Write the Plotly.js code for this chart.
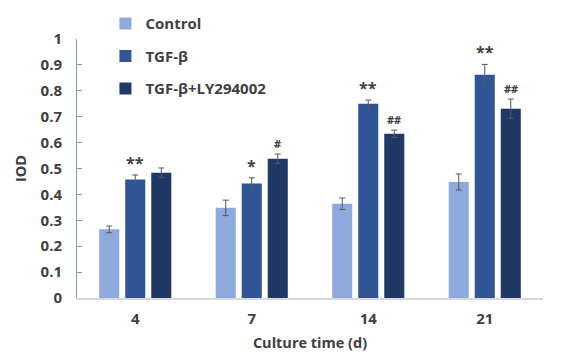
<!DOCTYPE html>
<html>
<head>
<meta charset="utf-8">
<script src="https://cdn.plot.ly/plotly-3.0.1.min.js"></script>
<style>html,body{margin:0;padding:0;background:#fff;}#chart{width:567px;height:354px;}</style>
</head>
<body>
<div id="chart"></div>
<script>
const categories = ['4', '7', '14', '21'];
const seriesNames = ['Control', 'TGF-β', 'TGF-β+LY294002'];
const controlVals = [0.265, 0.348, 0.364, 0.448];
const controlErr = [0.013, 0.030, 0.022, 0.031];
const tgfVals = [0.458, 0.442, 0.750, 0.862];
const tgfErr = [0.017, 0.022, 0.014, 0.040];
const lyVals = [0.484, 0.538, 0.634, 0.731];
const lyErr = [0.018, 0.018, 0.014, 0.037];
const tgfSig = ['**', '*', '**', '**'];
const lySig = ['', '#', '##', '##'];
const yTicks = [0, 0.1, 0.2, 0.3, 0.4, 0.5, 0.6, 0.7, 0.8, 0.9, 1];

const colors = ['#8EA9DB', '#2F5597', '#203864'];
const textColor = '#404040';
const fontFam = '"Open Sans", "Noto Sans", sans-serif';

const vals = [controlVals, tgfVals, lyVals];
const errs = [controlErr, tgfErr, lyErr];

const traces = vals.map((v, i) => ({
  type: 'bar',
  name: seriesNames[i],
  x: categories,
  y: v,
  marker: {color: colors[i], line: {width: 0}},
  error_y: {type: 'data', array: errs[i], visible: true, color: '#595959', thickness: 1, width: 3},
  legendgroup: 'g' + i
}));

const slot = 26; // px offset between bars in a group
const annotations = [];
categories.forEach((c, j) => {
  if (tgfSig[j]) annotations.push({
    x: j, xref: 'x', y: tgfVals[j] + tgfErr[j], yref: 'y', yanchor: 'bottom',
    xshift: 0, yshift: -1, text: tgfSig[j], showarrow: false,
    font: {family: fontFam, size: 16, color: textColor, weight: 'bold'}
  });
  if (lySig[j]) annotations.push({
    x: j, xref: 'x', y: lyVals[j] + lyErr[j], yref: 'y', yanchor: 'bottom',
    xshift: slot, yshift: 1, text: lySig[j], showarrow: false,
    font: {family: fontFam, size: 11, color: textColor}
  });
});

const layout = {
  width: 567, height: 354,
  margin: {l: 77, r: 24, t: 39, b: 56, autoexpand: false},
  paper_bgcolor: '#fff', plot_bgcolor: '#fff',
  barmode: 'group', bargap: 0.33, bargroupgap: 0.23,
  font: {family: fontFam, color: textColor, size: 15, weight: 'bold'},
  xaxis: {
    type: 'category', range: [-0.5, 3.5], autorange: false,
    showline: true, linecolor: '#d9d9d9', linewidth: 1.5,
    ticks: '', showgrid: false, zeroline: false, ticklabelstandoff: 6,
    tickfont: {family: fontFam, size: 15, color: textColor, weight: 'bold'},
    title: {text: 'Culture time (d)', font: {family: fontFam, size: 14.5, color: textColor, weight: 'bold'}, standoff: 11}
  },
  yaxis: {
    range: [0, 1], autorange: false, tickvals: yTicks, ticktext: yTicks.map(String),
    showline: true, linecolor: '#7FA3A8', linewidth: 1,
    ticks: 'inside', ticklen: 5, tickcolor: '#7FA3A8', ticklabelstandoff: 11,
    showgrid: false, zeroline: false,
    tickfont: {family: fontFam, size: 15, color: textColor, weight: 'bold'},
    title: {text: 'IOD', font: {family: fontFam, size: 14.5, color: textColor, weight: 'bold'}, standoff: 10}
  },
  showlegend: true,
  legend: {
    x: 0.061, y: 1.123, xanchor: 'left', yanchor: 'top',
    bgcolor: 'rgba(0,0,0,0)', itemwidth: 30, tracegroupgap: 10,
    font: {family: fontFam, size: 15, color: textColor, weight: 'bold'}
  },
  annotations: annotations
};

Plotly.newPlot('chart', traces, layout, {displayModeBar: false, staticPlot: true});
</script>
</body>
</html>
